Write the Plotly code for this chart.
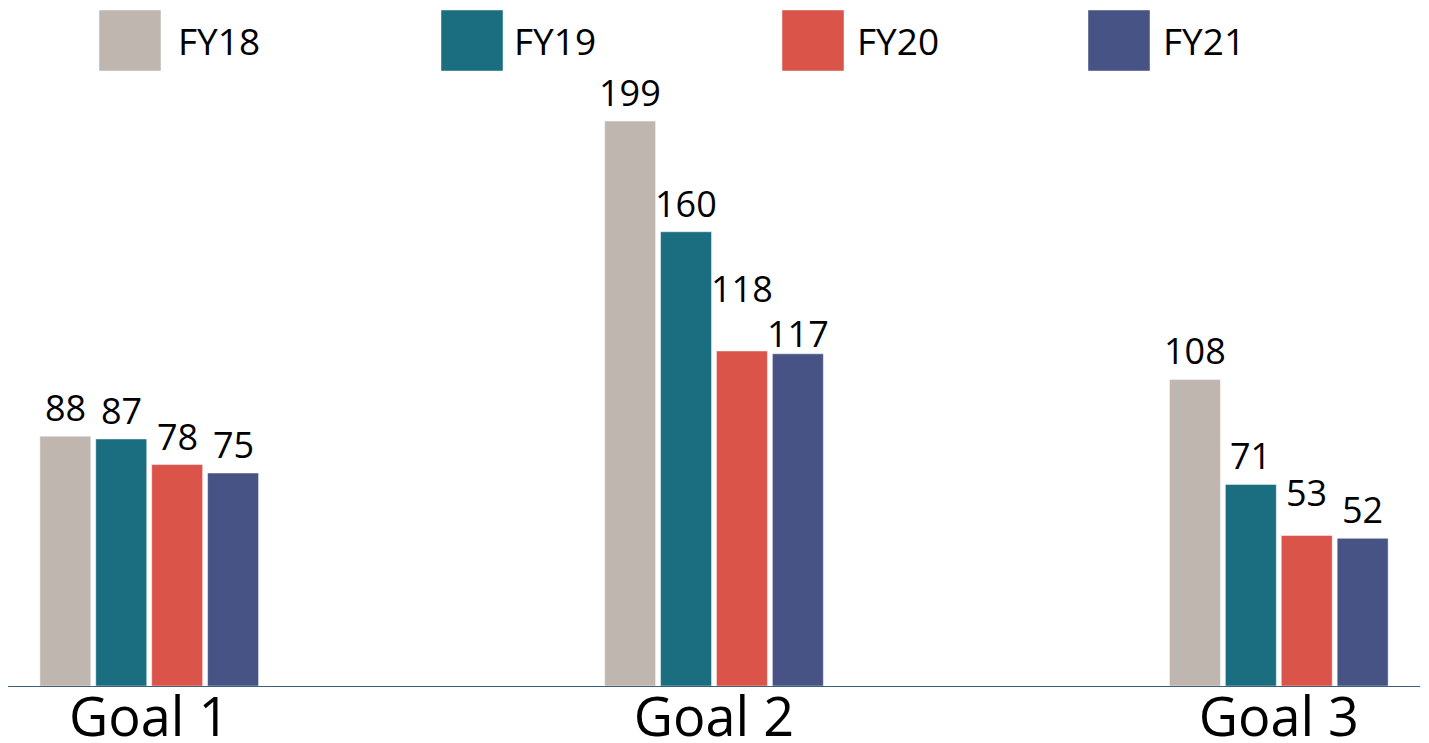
import plotly.graph_objects as go

categories = ["Goal 1", "Goal 2", "Goal 3"]
series_names = ["FY18", "FY19", "FY20", "FY21"]
fy18 = [88, 199, 108]
fy19 = [87, 160, 71]
fy20 = [78, 118, 53]
fy21 = [75, 117, 52]
colors = ["#BFB6B0", "#1A6E80", "#DB544A", "#465384"]

values = [fy18, fy19, fy20, fy21]

# The page body adds an 8px offset; work in figure coordinates.
OFF = 8
W, H = 1429, 743
ML, MR, MT = 0, 17, 72
PH = 606
MB = H - MT - PH
PW = W - ML - MR

X_RANGE = [-0.25, 2.25]
BARGAP = 0.604
BARGROUPGAP = 0.089
LABEL_FONT = 36
LABEL_GAP = 2  # px between bar top and label box
# label collision nudges (px), keyed by (category index, series index)
label_nudge = {(1, 2): 34, (1, 3): -8, (2, 2): 15}

fig = go.Figure()
for name, vals, col in zip(series_names, values, colors):
    fig.add_trace(go.Bar(
        x=categories, y=vals, name=name,
        marker=dict(color=col, line=dict(color="rgba(255,255,255,0.45)", width=1)),
        showlegend=False, hoverinfo="x+y+name",
    ))

annotations, shapes = [], []

# Value labels above bars, positioned relative to bar via data coordinates
cat_px = PW / (X_RANGE[1] - X_RANGE[0])
slot_px = cat_px * (1 - BARGAP) / len(series_names)
for si, vals in enumerate(values):
    for ci, (cat, v) in enumerate(zip(categories, vals)):
        annotations.append(dict(
            xref="x", yref="y", x=cat, y=v, text=str(v), showarrow=False,
            xanchor="center", yanchor="bottom",
            xshift=(si - (len(series_names) - 1) / 2) * slot_px,
            yshift=LABEL_GAP + label_nudge.get((ci, si), 0),
            font=dict(size=LABEL_FONT, color="#000000", family="Open Sans"),
        ))

# Custom legend (large squares), positions given in page pixels
legend_box_px = [99, 441, 782, 1088]
legend_text_px = [178, 514, 857, 1163]
plot_bottom_page = OFF + MT + PH
for bx, tx, name, col in zip(legend_box_px, legend_text_px, series_names, colors):
    x0 = (bx - OFF - ML) / PW
    x1 = (bx + 62 - OFF - ML) / PW
    y0 = (plot_bottom_page - 71) / PH
    y1 = (plot_bottom_page - 10) / PH
    shapes.append(dict(type="rect", xref="paper", yref="paper", x0=x0, x1=x1, y0=y0, y1=y1,
                       fillcolor=col, line=dict(color="rgba(255,255,255,0.45)", width=1)))
    annotations.append(dict(xref="paper", yref="paper", x=(tx - 2 - OFF - ML) / PW,
                            y=(plot_bottom_page - 41) / PH,
                            text=name, showarrow=False, xanchor="left", yanchor="middle",
                            font=dict(size=37, color="#000000", family="Open Sans")))

fig.update_layout(
    width=W, height=H,
    margin=dict(l=ML, r=MR, t=MT, b=MB, autoexpand=False),
    paper_bgcolor="white", plot_bgcolor="white",
    barmode="group", bargap=BARGAP, bargroupgap=BARGROUPGAP,
    font=dict(family="Open Sans", color="#000000"),
    xaxis=dict(range=X_RANGE, showline=True, linecolor="#3E5F78", linewidth=1,
               ticks="", tickfont=dict(size=54, family="Open Sans", color="#000000"),
               ticklabelstandoff=-16,
               showgrid=False, zeroline=False, automargin=False),
    yaxis=dict(range=[0, PH / 2.839], visible=False, showgrid=False, zeroline=False,
               automargin=False),
    shapes=shapes, annotations=annotations,
    showlegend=False,
)

fig.write_html("out.html")
